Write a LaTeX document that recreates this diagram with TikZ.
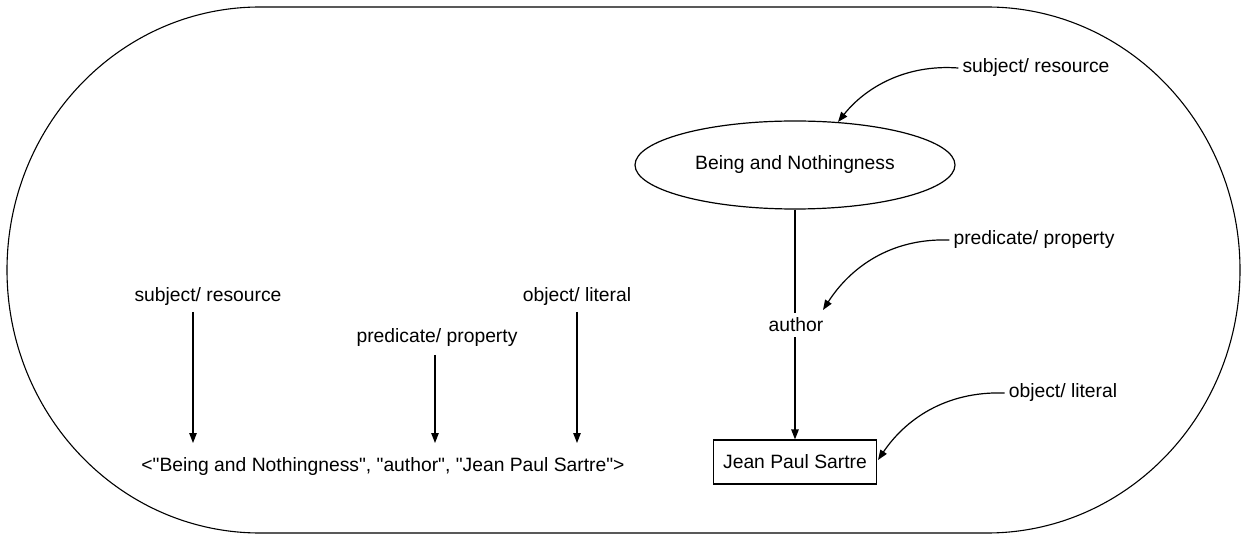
\documentclass[tikz,border=0pt]{standalone}
\usepackage{fontspec}
% plain family: keeps straight ASCII quotes
\newfontfamily\lsans{Liberation Sans}
\usetikzlibrary{shapes.geometric,arrows.meta}
\begin{document}
\begin{tikzpicture}[x=1pt,y=-1pt,
  lbl/.style={font=\lsans\fontsize{19.3}{23}\selectfont, inner sep=1pt},
  callout/.style={lbl, inner sep=4pt},
  edge/.style={line width=1.2pt},
  arr/.style={edge, -{Triangle[length=10pt,width=7.5pt]}}]
\useasboundingbox (0,0) rectangle (1245,534);

% outer boundary: long box with elliptical ends
\draw[line width=1.1pt] (260,7) -- (987,7)
  arc[start angle=90, end angle=-90, x radius=253pt, y radius=263pt]
  -- (260,533)
  arc[start angle=270, end angle=90, x radius=253pt, y radius=263pt]
  -- cycle;

% graph form of the statement
\node[draw, ellipse, edge, lbl, minimum width=320pt, minimum height=88pt, inner sep=0pt] (res) at (795,165) {Being and Nothingness};
\node[lbl, inner sep=5pt] (prop) at (796,325) {author};
\node[draw, edge, lbl, minimum width=163pt, minimum height=44pt] (lit) at (795,462) {Jean Paul Sartre};
\draw[edge] (res.south) -- (res.south |- prop.north);
\draw[arr] (res.south |- prop.south) -- (res.south |- lit.north);

% callouts for the graph form
\node[callout] (rsub) at (1036,68) {subject/ resource};
\node[callout] (rpred) at (1034,240) {predicate/ property};
\node[callout] (robj) at (1063,393) {object/ literal};
\coordinate (rsubtip) at (838,122);
\coordinate (rpredtip) at (823,310);
\coordinate (robjtip) at (878,460);
\draw[arr] (rsub.west) .. controls (905,64) and (865,88) .. (rsubtip);
\draw[arr] (rpred.west) .. controls (890,238) and (850,268) .. (rpredtip);
\draw[arr] (robj.west) .. controls (945,391) and (905,420) .. (robjtip);

% triple form of the statement
\node[lbl] (triple) at (383,467) {<"Being and Nothingness", "author", "Jean Paul Sartre">};
\node[lbl] (tsub) at (208,297) {subject/ resource};
\node[lbl] (tpred) at (437,338) {predicate/ property};
\node[lbl] (tobj) at (577,297) {object/ literal};
\coordinate (tsubtop) at (193,312);
\coordinate (tsubtip) at (193,443);
\coordinate (tpredtop) at (435,355);
\coordinate (tpredtip) at (435,443);
\coordinate (tobjtop) at (577,312);
\coordinate (tobjtip) at (577,443);
\draw[arr] (tsubtop) -- (tsubtip);
\draw[arr] (tpredtop) -- (tpredtip);
\draw[arr] (tobjtop) -- (tobjtip);
\end{tikzpicture}
\end{document}
